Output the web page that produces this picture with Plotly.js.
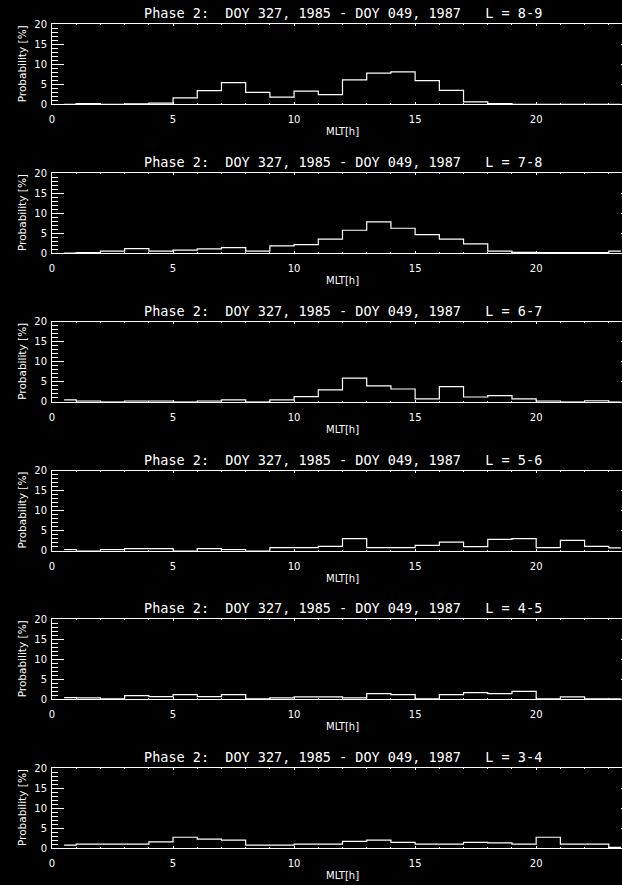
<!DOCTYPE html>
<html>
<head>
<meta charset="utf-8">
<script src="https://cdn.plot.ly/plotly-3.0.1.min.js"></script>
<style>
html, body { margin: 0; padding: 0; background: #000; overflow: hidden; width: 622px; height: 885px; }
#chart { width: 660px; height: 885px; }
</style>
</head>
<body>
<div id="chart"></div>
<script>
// MLT bin centres (hours)
const mlt = [0.5, 1.5, 2.5, 3.5, 4.5, 5.5, 6.5, 7.5, 8.5, 9.5, 10.5, 11.5,
             12.5, 13.5, 14.5, 15.5, 16.5, 17.5, 18.5, 19.5, 20.5, 21.5, 22.5, 23.5];

// Probability [%] per MLT bin, one array per L shell
const probL89 = [0, 0.15, 0, 0.1, 0.3, 1.6, 3.4, 5.4, 3.0, 1.8, 3.3, 2.4,
                 6.1, 7.8, 8.1, 5.9, 3.5, 0.6, 0.15, 0, 0, 0, 0, 0];
const probL78 = [0, 0.1, 0.5, 1.1, 0.5, 0.75, 1.05, 1.35, 0.5, 1.8, 2.1, 3.5,
                 5.7, 7.8, 6.2, 4.6, 3.5, 2.3, 0.5, 0.15, 0.1, 0.1, 0.1, 0.5];
const probL67 = [0.5, 0.15, 0, 0.15, 0.15, 0, 0.15, 0.5, 0, 0.5, 1.3, 3.0,
                 5.9, 4.0, 3.2, 0.75, 3.8, 1.2, 1.55, 0.75, 0.15, 0, 0.25, 0];
const probL56 = [0.25, 0, 0.25, 0.5, 0.5, 0, 0.5, 0.25, 0, 0.75, 0.75, 1.05,
                 3.0, 0.75, 0.75, 1.3, 2.1, 1.0, 2.8, 3.0, 0.75, 2.55, 1.05, 0.65];
const probL45 = [0.4, 0.35, 0.1, 0.9, 0.65, 1.15, 0.65, 1.15, 0.1, 0.35, 0.6, 0.6,
                 0.35, 1.4, 1.15, 0.1, 1.15, 1.65, 1.4, 2.0, 0.1, 0.6, 0.1, 0.1];
const probL34 = [0.75, 1.0, 1.0, 1.0, 1.55, 2.7, 2.25, 2.0, 0.75, 0.75, 1.0, 1.0,
                 1.65, 2.0, 1.4, 1.0, 1.0, 1.4, 1.3, 1.0, 2.7, 1.0, 1.0, 0.15];

const lShells = ['8-9', '7-8', '6-7', '5-6', '4-5', '3-4'];
const series = [probL89, probL78, probL67, probL56, probL45, probL34];

const xTicks = [0, 5, 10, 15, 20];
const yTicks = [0, 5, 10, 15, 20];
const NB = '\u00A0';
const titleBase = 'Phase 2:' + NB + NB + 'DOY 327, 1985 - DOY 049, 1987' + NB + NB + NB + 'L = ';

const H = 885;
const panelTop0 = 24.3, panelStep = 148.75, panelH = 80;
const FONT = 'DejaVu Sans';
const TFONT = 'DejaVu Sans Mono';

const data = [];
const layout = {
  width: 660, height: H,
  margin: {l: 52, r: 27, t: 0, b: 0, pad: 0},
  paper_bgcolor: '#000', plot_bgcolor: '#000',
  showlegend: false,
  font: {family: FONT, color: '#fff', size: 10},
  annotations: []
};

series.forEach((vals, i) => {
  const n = i === 0 ? '' : String(i + 1);
  const top = panelTop0 + panelStep * i;
  const bot = top + panelH;
  data.push({
    type: 'scatter', mode: 'lines', x: mlt, y: vals,
    xaxis: 'x' + n, yaxis: 'y' + n,
    line: {shape: 'hvh', color: '#fff', width: 1.2},
    hoverinfo: 'skip'
  });
  layout['xaxis' + n] = {
    domain: [0, 1], anchor: 'y' + n, range: [0, 24],
    tickvals: xTicks, ticktext: xTicks.map(String),
    ticks: 'inside', ticklen: 2, tickwidth: 1, tickcolor: '#fff',
    minor: {dtick: 1, tick0: 0, ticks: 'inside', ticklen: 1, tickcolor: '#fff', showgrid: false},
    showline: true, linecolor: '#fff', linewidth: 1, mirror: 'ticks',
    showgrid: false, zeroline: false, ticklabelstandoff: 6,
    tickfont: {family: FONT, size: 10, color: '#fff'}
  };
  layout['yaxis' + n] = {
    domain: [1 - bot / H, 1 - top / H], anchor: 'x' + n, range: [0, 20],
    tickvals: yTicks, ticktext: yTicks.map(String),
    ticks: 'inside', ticklen: 12, tickwidth: 1, tickcolor: '#fff',
    minor: {dtick: 1, tick0: 0, ticks: 'inside', ticklen: 6, tickcolor: '#fff', showgrid: false},
    showline: true, linecolor: '#fff', linewidth: 1, mirror: 'ticks',
    showgrid: false, zeroline: false, ticklabelstandoff: 2,
    tickfont: {family: FONT, size: 10, color: '#fff'}
  };
  layout.annotations.push({
    xref: 'paper', yref: 'paper', x: 0.5, y: 1 - (top - 11) / H,
    xanchor: 'center', yanchor: 'middle', showarrow: false,
    text: titleBase + lShells[i],
    font: {family: TFONT, size: 13.5, color: '#fff'}
  });
  layout.annotations.push({
    xref: 'paper', yref: 'paper', x: 0.5, y: 1 - (bot + 27.5) / H,
    xanchor: 'center', yanchor: 'middle', showarrow: false,
    text: 'MLT[h]', font: {family: FONT, size: 10, color: '#fff'}
  });
  layout.annotations.push({
    xref: 'paper', yref: 'paper', x: (22 - 52) / 581, y: 1 - (top + bot) / 2 / H,
    xanchor: 'center', yanchor: 'middle', showarrow: false, textangle: -90,
    text: 'Probability [%]', font: {family: FONT, size: 10.5, color: '#fff'}
  });
});

Plotly.newPlot('chart', data, layout, {displayModeBar: false, staticPlot: true});
</script>
</body>
</html>
